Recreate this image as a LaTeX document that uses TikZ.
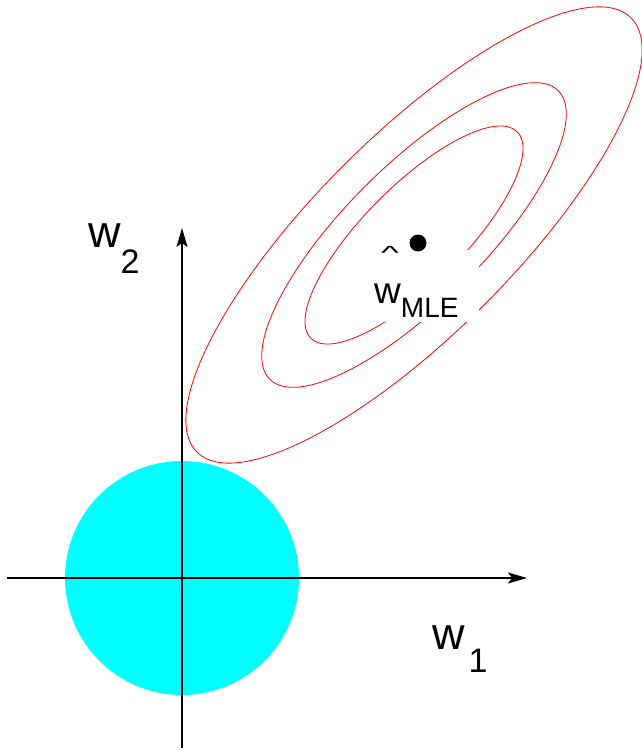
\documentclass[tikz,border=0pt]{standalone}
\usepackage{fontspec}
\setmainfont{Liberation Sans}
\usepackage{xcolor}
\usepackage{tikz}
\usetikzlibrary{arrows.meta}

\definecolor{ridge}{RGB}{0,255,255}
\newcommand{\wsub}[4]{w\kern#1\raisebox{-#2}{\fontsize{#3}{#3}\selectfont #4}}

\tikzset{
  contour/.style={red, line width=0.8pt},
  axis/.style={line width=1.6pt, -{Stealth[length=19pt, width=11pt, inset=4pt]}},
  lbl/.style={anchor=base west, inner sep=0pt, font=\fontsize{45}{45}\selectfont},
}

\begin{document}
\begin{tikzpicture}[x=1pt, y=-1pt]
  \useasboundingbox (0,0) rectangle (641,751);
  \coordinate (o) at (182,578);
  \coordinate (xl) at (7,578);
  \coordinate (xr) at (527,578);
  \coordinate (yb) at (182,748);
  \coordinate (yt) at (182,228);
  \coordinate (c) at (414,235);
  \fill[ridge] (o) circle (117pt);
  \draw[contour, rotate around={45:(c)}] (c) ellipse [x radius=307pt, y radius=99pt];
  \draw[contour, rotate around={45:(c)}] (c) ellipse [x radius=204pt, y radius=69pt];
  \draw[contour, rotate around={45:(c)}] (c) ellipse [x radius=146pt, y radius=49.5pt];
  \fill[white] (362,250) rectangle (479,322);
  \draw[axis] (xl) -- (xr);
  \draw[axis] (yb) -- (yt);
  \node[lbl] (w2) at (88,247) {\wsub{0pt}{26pt}{34}{2}};
  \node[lbl] (w1) at (432,649) {\wsub{4pt}{23pt}{34}{1}};
  \node[lbl, font=\fontsize{37}{37}\selectfont] (wmle) at (374,303) {\wsub{0pt}{14pt}{28}{MLE}};
  \node[anchor=base, inner sep=0pt, font=\fontsize{38}{38}\selectfont] (hat) at (390,259) {\scalebox{1}[0.5]{\textasciicircum}};
  \node[circle, fill, inner sep=0pt, minimum size=17pt] (mle) at (418,243) {};
\end{tikzpicture}
\end{document}
